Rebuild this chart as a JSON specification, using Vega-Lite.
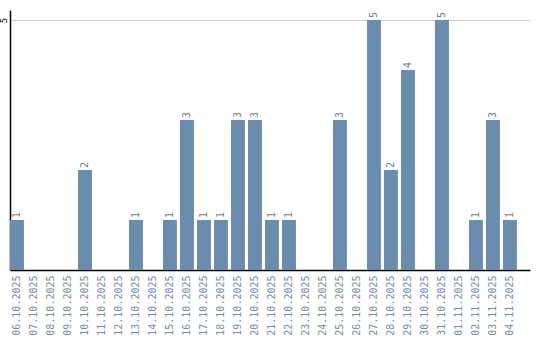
{
  "$schema": "https://vega.github.io/schema/vega-lite/v6.json",
  "width": 520,
  "height": 260,
  "autosize": "none",
  "padding": {"left": 10, "top": 10, "right": 10, "bottom": 70},
  "background": "white",
  "config": {"view": {"stroke": null}},
  "data": {"values": [
    {"date": "06.10.2025", "count": 1},
    {"date": "07.10.2025", "count": 0},
    {"date": "08.10.2025", "count": 0},
    {"date": "09.10.2025", "count": 0},
    {"date": "10.10.2025", "count": 2},
    {"date": "11.10.2025", "count": 0},
    {"date": "12.10.2025", "count": 0},
    {"date": "13.10.2025", "count": 1},
    {"date": "14.10.2025", "count": 0},
    {"date": "15.10.2025", "count": 1},
    {"date": "16.10.2025", "count": 3},
    {"date": "17.10.2025", "count": 1},
    {"date": "18.10.2025", "count": 1},
    {"date": "19.10.2025", "count": 3},
    {"date": "20.10.2025", "count": 3},
    {"date": "21.10.2025", "count": 1},
    {"date": "22.10.2025", "count": 1},
    {"date": "23.10.2025", "count": 0},
    {"date": "24.10.2025", "count": 0},
    {"date": "25.10.2025", "count": 3},
    {"date": "26.10.2025", "count": 0},
    {"date": "27.10.2025", "count": 5},
    {"date": "28.10.2025", "count": 2},
    {"date": "29.10.2025", "count": 4},
    {"date": "30.10.2025", "count": 0},
    {"date": "31.10.2025", "count": 5},
    {"date": "01.11.2025", "count": 0},
    {"date": "02.11.2025", "count": 1},
    {"date": "03.11.2025", "count": 3},
    {"date": "04.11.2025", "count": 1}
  ]},
  "encoding": {
    "x": {
      "field": "date", "type": "nominal", "sort": null,
      "scale": {"paddingInner": 0.18, "paddingOuter": 0.385, "align": 0},
      "axis": {
        "title": null, "labelAngle": -90, "labelAlign": "right", "labelBaseline": "middle",
        "labelFont": "DejaVu Sans Mono", "labelFontSize": 10, "labelColor": "#6f8fb0",
        "labelPadding": 5,
        "ticks": false, "domainColor": "#000000", "domainWidth": 1.5, "grid": false
      }
    },
    "y": {
      "field": "count", "type": "quantitative",
      "scale": {"domain": [0, 5.2], "nice": false},
      "axis": {
        "title": null, "values": [5], "labelAngle": -90, "labelAlign": "center", "labelBaseline": "bottom",
        "labelFont": "DejaVu Sans Mono", "labelFontSize": 9, "labelColor": "#000000",
        "labelPadding": 2,
        "ticks": false, "domainColor": "#000000", "domainWidth": 1.5,
        "grid": true, "gridColor": "#cccccc", "gridWidth": 1
      }
    }
  },
  "layer": [
    {"mark": {"type": "bar", "color": "#6a8cad"}},
    {
      "transform": [{"filter": "datum.count > 0"}],
      "mark": {"type": "text", "angle": -90, "align": "left", "baseline": "middle", "dx": 2,
               "font": "DejaVu Sans Mono", "fontSize": 10, "color": "#6a7f96"},
      "encoding": {"text": {"field": "count", "type": "quantitative"}}
    }
  ]
}
